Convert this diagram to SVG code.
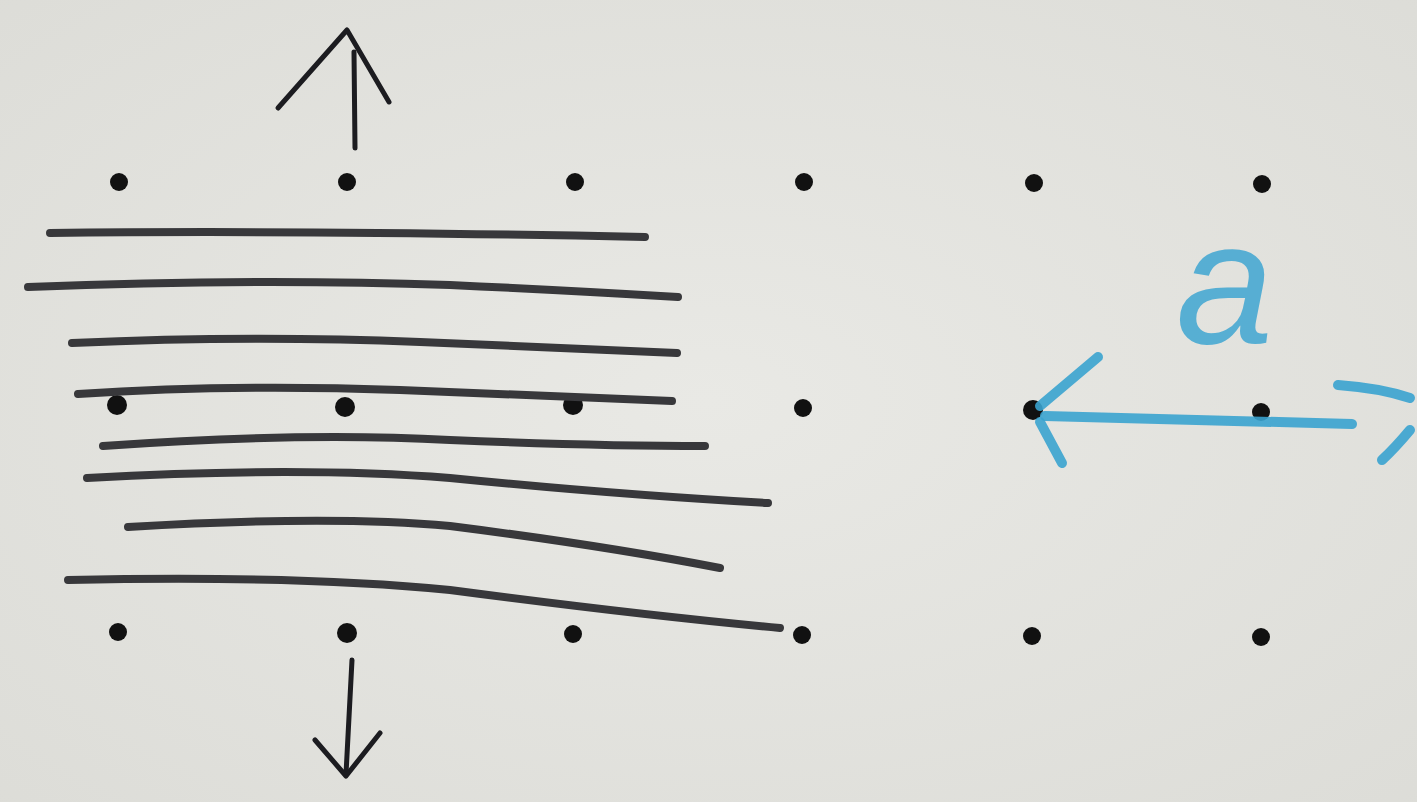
<svg xmlns="http://www.w3.org/2000/svg" width="1417" height="802" viewBox="0 0 1417 802">
<defs>
<radialGradient id="paper" cx="0.5" cy="0.5" r="0.75">
<stop offset="0" stop-color="#e9e9e5"/>
<stop offset="1" stop-color="#dcdcd7"/>
</radialGradient>
<style>
.dot{fill:#111}
.ln{fill:none;stroke:#38383b;stroke-linecap:round;stroke-linejoin:round}
.pen{fill:none;stroke:#1c1c20;stroke-width:5;stroke-linecap:round;stroke-linejoin:round}
.blue{fill:none;stroke:#3aa3cf;stroke-width:10;stroke-linecap:round;stroke-linejoin:round;opacity:0.9}
.lbl{font-family:"Liberation Sans",Arial,sans-serif;font-style:italic;fill:#3fa6d2;opacity:0.85}
</style>
</defs>
<rect width="1417" height="802" fill="url(#paper)"/>
<g id="dots">
<circle class="dot" cx="119" cy="182" r="9"/><circle class="dot" cx="347" cy="182" r="9"/><circle class="dot" cx="575" cy="182" r="9"/><circle class="dot" cx="804" cy="182" r="9"/><circle class="dot" cx="1034" cy="183" r="9"/><circle class="dot" cx="1262" cy="184" r="9"/>
<circle class="dot" cx="117" cy="405" r="10"/><circle class="dot" cx="345" cy="407" r="10"/><circle class="dot" cx="573" cy="405" r="10"/><circle class="dot" cx="803" cy="408" r="9"/><circle class="dot" cx="1033" cy="410" r="10"/><circle class="dot" cx="1261" cy="412" r="9"/>
<circle class="dot" cx="118" cy="632" r="9"/><circle class="dot" cx="347" cy="633" r="10"/><circle class="dot" cx="573" cy="634" r="9"/><circle class="dot" cx="802" cy="635" r="9"/><circle class="dot" cx="1032" cy="636" r="9"/><circle class="dot" cx="1261" cy="637" r="9"/>
</g>
<g id="planes">
<path class="ln" stroke-width="8" d="M50 233 Q300 230 645 237"/>
<path class="ln" stroke-width="8" d="M28 287 Q250 278 450 285 Q560 290 678 297"/>
<path class="ln" stroke-width="8" d="M72 343 Q250 335 420 342 Q560 348 677 353"/>
<path class="ln" stroke-width="8" d="M78 394 Q230 384 400 390 Q560 396 672 401"/>
<path class="ln" stroke-width="8" d="M103 446 Q300 432 450 440 Q600 446 705 446"/>
<path class="ln" stroke-width="8" d="M87 478 Q300 466 450 478 Q620 495 768 503"/>
<path class="ln" stroke-width="8" d="M128 527 Q330 515 450 526 Q600 545 720 568"/>
<path class="ln" stroke-width="8" d="M68 580 Q300 575 450 590 Q640 615 780 628"/>
</g>
<g id="arrow-up">
<path class="pen" d="M355 148 L354 52"/>
<path class="pen" stroke-width="7" d="M278 108 L347 30 L389 102"/>
</g>
<g id="arrow-down">
<path class="pen" stroke-width="6" d="M352 660 L346 774"/>
<path class="pen" stroke-width="6" d="M315 740 L346 776 L380 733"/>
</g>
<g id="spacing-a">
<path class="blue" d="M1045 416 Q1200 420 1352 424"/>
<path class="blue" d="M1098 357 L1040 406"/>
<path class="blue" d="M1040 422 L1062 463"/>
<path class="blue" d="M1338 385 Q1380 388 1410 398"/>
<path class="blue" d="M1410 430 Q1395 448 1382 460"/>
<text class="lbl" x="1176" y="343" font-size="175">a</text>
</g>
</svg>
